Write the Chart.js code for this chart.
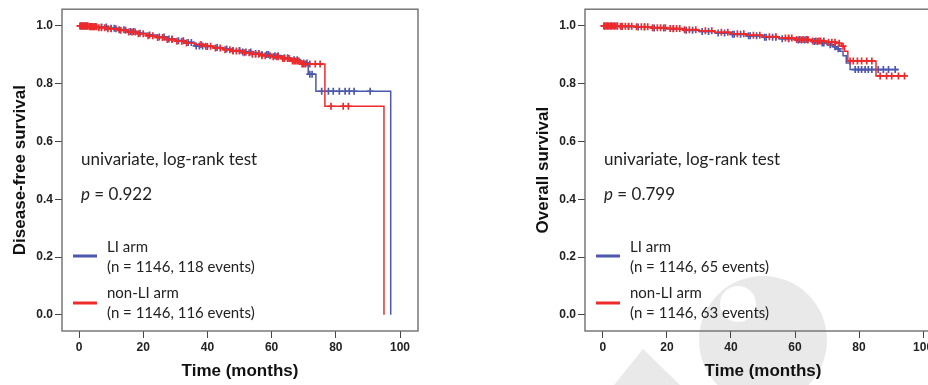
<!DOCTYPE html>
<html>
<head>
<meta charset="utf-8">
<script src="https://cdn.jsdelivr.net/npm/chart.js@4.4.1/dist/chart.umd.min.js"></script>
<style>
  html, body { margin: 0; padding: 0; background: #fff; overflow: hidden; }
  #wrap { position: relative; width: 928px; height: 385px; overflow: hidden; }
  canvas { position: absolute; top: 0; }
</style>
</head>
<body>
<div id="wrap">
  <canvas id="dfsChart" width="430" height="385" style="left:0px"></canvas>
  <canvas id="osChart" width="430" height="385" style="left:523px"></canvas>
</div>
<script>
// axis ticks
let xTicks = [0, 20, 40, 60, 80, 100];
let yTicks = [0.0, 0.2, 0.4, 0.6, 0.8, 1.0];

// Disease-free survival, LI arm (step times / survival after step)
let dfsLiTime = [0, 3, 6, 9, 12, 15, 18, 21, 24, 27, 30, 33, 36, 39, 42, 45, 48, 51, 54, 57, 60, 63, 66, 69, 71.4, 73.8, 97.1];
let dfsLiSurv = [1.0, 0.998, 0.996, 0.992, 0.987, 0.981, 0.975, 0.969, 0.962, 0.955, 0.949, 0.943, 0.931, 0.929, 0.925, 0.920, 0.915, 0.910, 0.905, 0.901, 0.897, 0.890, 0.883, 0.872, 0.833, 0.774, 0.0];
let dfsLiCensor = [0.5, 1, 1.5, 2, 2.5, 3.5, 4, 5, 7, 8.5, 10, 11, 12.5, 14, 16, 17, 19, 22, 25, 26.5, 28, 29, 31, 32.5, 34, 35, 36.5, 37.5, 38.5, 40, 43, 46, 48, 50, 51, 52, 53.5, 55, 56, 57, 58.5, 59, 61, 62, 64, 65, 67, 68, 70, 71, 71.9, 72.6, 75.6, 77.7, 79.2, 81.1, 82.9, 84.2, 85.7, 90.7];

// Disease-free survival, non-LI arm
let dfsNonTime = [0, 3, 6, 9, 12, 15, 18, 21, 24, 27, 30, 33, 36, 39, 42, 45, 48, 51, 54, 57, 60, 63, 66, 69, 76.6, 95.0];
let dfsNonSurv = [1.0, 0.997, 0.994, 0.990, 0.985, 0.979, 0.973, 0.966, 0.960, 0.953, 0.947, 0.941, 0.936, 0.930, 0.924, 0.918, 0.913, 0.907, 0.902, 0.897, 0.893, 0.887, 0.879, 0.868, 0.722, 0.0];
let dfsNonCensor = [0.3, 0.6, 0.8, 1.2, 1.5, 1.8, 2.3, 2.6, 2.8, 3.3, 3.7, 4.2, 4.5, 4.8, 5.5, 6.2, 7, 8, 9, 10, 11.5, 13, 14.5, 15.5, 16.5, 17.5, 18.5, 20, 21.5, 23, 24.5, 26, 27.5, 29, 30.5, 32, 33.5, 38, 39.5, 41, 42.5, 44, 45.5, 47, 48, 49, 50, 51.5, 53, 54, 55, 56, 57, 58, 59.5, 60.5, 61.5, 62, 63.5, 64, 65, 65.5, 66.5, 67, 67.5, 68, 68.5, 69.5, 70, 70.5, 71.9, 73.6, 75.1, 78.5, 82.3, 83.9];

// Overall survival, LI arm
let osLiTime = [0, 5, 10, 15, 20, 25, 30, 35, 40, 45, 50, 55, 60, 65, 68, 70, 72, 73, 74, 75, 76, 77.2, 92.3];
let osLiSurv = [1.0, 0.998, 0.996, 0.993, 0.990, 0.985, 0.981, 0.976, 0.971, 0.966, 0.961, 0.956, 0.951, 0.946, 0.941, 0.935, 0.928, 0.921, 0.912, 0.897, 0.872, 0.849, 0.849];
let osLiCensor = [0.5, 1.5, 2.5, 3.5, 4.5, 6, 8, 11, 13, 16, 19, 22, 26, 28, 31, 33, 36, 38, 40.5, 41, 43, 45.5, 46, 48, 50.5, 51, 53, 54, 56, 58, 61, 62, 63, 64, 66, 67, 68.5, 69, 71, 72.5, 73.5, 78.8, 79.8, 80.8, 81.9, 82.9, 84, 86, 87.6, 89.2, 91.3];

// Overall survival, non-LI arm
let osNonTime = [0, 5, 10, 15, 20, 25, 30, 35, 40, 45, 50, 55, 60, 65, 70, 73, 74.5, 75.5, 76.5, 85.3, 94.4];
let osNonSurv = [1.0, 0.999, 0.997, 0.994, 0.991, 0.987, 0.983, 0.978, 0.973, 0.968, 0.963, 0.958, 0.953, 0.948, 0.944, 0.940, 0.930, 0.912, 0.879, 0.827, 0.827];
let osNonCensor = [0.3, 0.6, 1, 1.4, 1.8, 2.2, 2.6, 3, 3.5, 4, 4.5, 5.5, 6, 7, 8, 9, 10.5, 12, 13, 14, 15.5, 17, 18, 19.5, 21, 22, 23, 24, 25.5, 27, 29, 32, 34, 37, 39, 42, 44, 47, 49, 52, 54, 57, 58, 59, 60.5, 61.5, 62.5, 63.5, 64, 65.5, 66.5, 67.5, 68, 69, 70.5, 71.5, 72.5, 73.8, 75, 77.2, 78.2, 79.5, 80.8, 82.4, 84, 86.6, 88.6, 90.2, 92.3, 94.2];

const BLUE = '#4c58ae';
const RED = '#ee2a2a';

function stepValue(times, surv, t) {
    let v = surv[0];
    for (let i = 0; i < times.length; i++) {
        if (times[i] <= t) v = surv[i];
    }
    return v;
}

function curvePoints(times, surv) {
    return times.map((t, i) => ({x: t, y: surv[i]}));
}

function censorPoints(censor, times, surv) {
    return censor.map(t => ({x: t, y: stepValue(times, surv, t)}));
}

// faint logo watermark behind the right panel
const watermarkPlugin = {
    id: 'watermark',
    beforeDraw(chart) {
        let ctx = chart.ctx;
        let off = chart.canvas.offsetLeft;
        ctx.save();
        ctx.fillStyle = '#e9e9e9';
        ctx.beginPath();
        ctx.arc(763 - off, 340, 64, 0, Math.PI * 2);
        ctx.fill();
        ctx.fillStyle = '#fff';
        ctx.beginPath();
        ctx.arc(738 - off, 304, 18, 0, Math.PI * 2);
        ctx.fill();
        ctx.fillStyle = '#e9e9e9';
        ctx.beginPath();
        ctx.moveTo(643 - off, 349);
        ctx.lineTo(680 - off, 385);
        ctx.lineTo(614 - off, 385);
        ctx.closePath();
        ctx.fill();
        ctx.restore();
    }
};

function panelPlugin(texts) {
    return {
        id: 'panel',
        beforeDatasetsDraw(chart) {
            let ctx = chart.ctx;
            let a = chart.chartArea;
            ctx.save();
            ctx.strokeStyle = '#6e6e6e';
            ctx.lineWidth = 1.4;
            ctx.strokeRect(a.left, a.top, a.right - a.left, a.bottom - a.top);
            ctx.restore();
        },
        afterDraw(chart) {
            let ctx = chart.ctx;
            let a = chart.chartArea;
            let x0 = a.left;
            ctx.save();
            ctx.fillStyle = '#222';
            ctx.textBaseline = 'middle';
            ctx.font = '17px Lato';
            ctx.fillText('univariate, log-rank test', x0 + 19, 160);
            ctx.font = 'italic 17px Lato';
            ctx.fillText('p', x0 + 19, 195);
            let pw = ctx.measureText('p').width;
            ctx.font = '17px Lato';
            ctx.fillText(' = ' + texts.p, x0 + 19 + pw, 195);

            // legend
            ctx.lineWidth = 3;
            ctx.strokeStyle = BLUE;
            ctx.beginPath(); ctx.moveTo(x0 + 11, 256); ctx.lineTo(x0 + 35, 256); ctx.stroke();
            ctx.strokeStyle = RED;
            ctx.beginPath(); ctx.moveTo(x0 + 11, 303); ctx.lineTo(x0 + 35, 303); ctx.stroke();
            ctx.font = '15px Lato';
            ctx.fillText('LI arm', x0 + 45, 247);
            ctx.fillText(texts.li, x0 + 45, 267);
            ctx.fillText('non-LI arm', x0 + 45, 293);
            ctx.fillText(texts.non, x0 + 45, 313);
            ctx.restore();
        }
    };
}

function makeScales(xMin, xMax, yTitle) {
    return {
        x: {
            type: 'linear', min: xMin, max: xMax,
            afterBuildTicks: axis => { axis.ticks = xTicks.map(v => ({value: v})); },
            afterFit: s => { s.height = 54; },
            grid: { drawOnChartArea: false, drawTicks: true, tickLength: 7, color: '#444' },
            border: { display: false },
            ticks: { autoSkip: false, maxRotation: 0, color: '#222', padding: 2,
                     font: { size: 12, weight: 'bold', family: 'Liberation Sans' }, callback: v => v },
            title: { display: true, text: 'Time (months)', color: '#111',
                     font: { size: 17, weight: 'bold', family: 'Liberation Sans' },
                     padding: { top: 0, bottom: 3 } }
        },
        y: {
            type: 'linear', min: -0.056, max: 1.058,
            afterBuildTicks: axis => { axis.ticks = yTicks.map(v => ({value: v})); },
            afterFit: s => { s.width = 62; },
            grid: { drawOnChartArea: false, drawTicks: true, tickLength: 7, color: '#444' },
            border: { display: false },
            ticks: { autoSkip: false, color: '#222', padding: 2,
                     font: { size: 12, weight: 'bold', family: 'Liberation Sans' }, callback: v => v.toFixed(1) },
            title: { display: true, text: yTitle, color: '#111',
                     font: { size: 17, weight: 'bold', family: 'Liberation Sans' },
                     padding: { top: 10, bottom: 0 } }
        }
    };
}

function makeDatasets(liT, liS, liC, nonT, nonS, nonC) {
    return [
        { label: 'non-LI arm', data: curvePoints(nonT, nonS), order: 1, borderColor: RED,
          showLine: true, borderWidth: 1.5, stepped: true, pointRadius: 0, fill: false },
        { label: 'non-LI censored', data: censorPoints(nonC, nonT, nonS), order: 1, showLine: false,
          pointStyle: 'cross', pointRadius: 3.5, borderColor: RED, borderWidth: 1.7 },
        { label: 'LI arm', data: curvePoints(liT, liS), order: 2, borderColor: BLUE,
          showLine: true, borderWidth: 1.5, stepped: true, pointRadius: 0, fill: false },
        { label: 'LI censored', data: censorPoints(liC, liT, liS), order: 2, showLine: false,
          pointStyle: 'cross', pointRadius: 3.5, borderColor: BLUE, borderWidth: 1.7 }
    ];
}

function makeChart(id, datasets, scales, texts, extra) {
    return new Chart(document.getElementById(id), {
        type: 'scatter',
        data: { datasets: datasets },
        options: {
            responsive: false,
            animation: false,
            layout: { autoPadding: false, padding: { left: 0, top: 9, right: 12, bottom: 0 } },
            plugins: { legend: { display: false }, tooltip: { enabled: false } },
            scales: scales
        },
        plugins: extra.concat([panelPlugin(texts)])
    });
}

makeChart('dfsChart',
    makeDatasets(dfsLiTime, dfsLiSurv, dfsLiCensor, dfsNonTime, dfsNonSurv, dfsNonCensor),
    makeScales(-5.3, 105.6, 'Disease-free survival'),
    { p: '0.922', li: '(n = 1146, 118 events)', non: '(n = 1146, 116 events)' }, []);

makeChart('osChart',
    makeDatasets(osLiTime, osLiSurv, osLiCensor, osNonTime, osNonSurv, osNonCensor),
    makeScales(-5.6, 105.6, 'Overall survival'),
    { p: '0.799', li: '(n = 1146, 65 events)', non: '(n = 1146, 63 events)' }, [watermarkPlugin]);
</script>
</body>
</html>
